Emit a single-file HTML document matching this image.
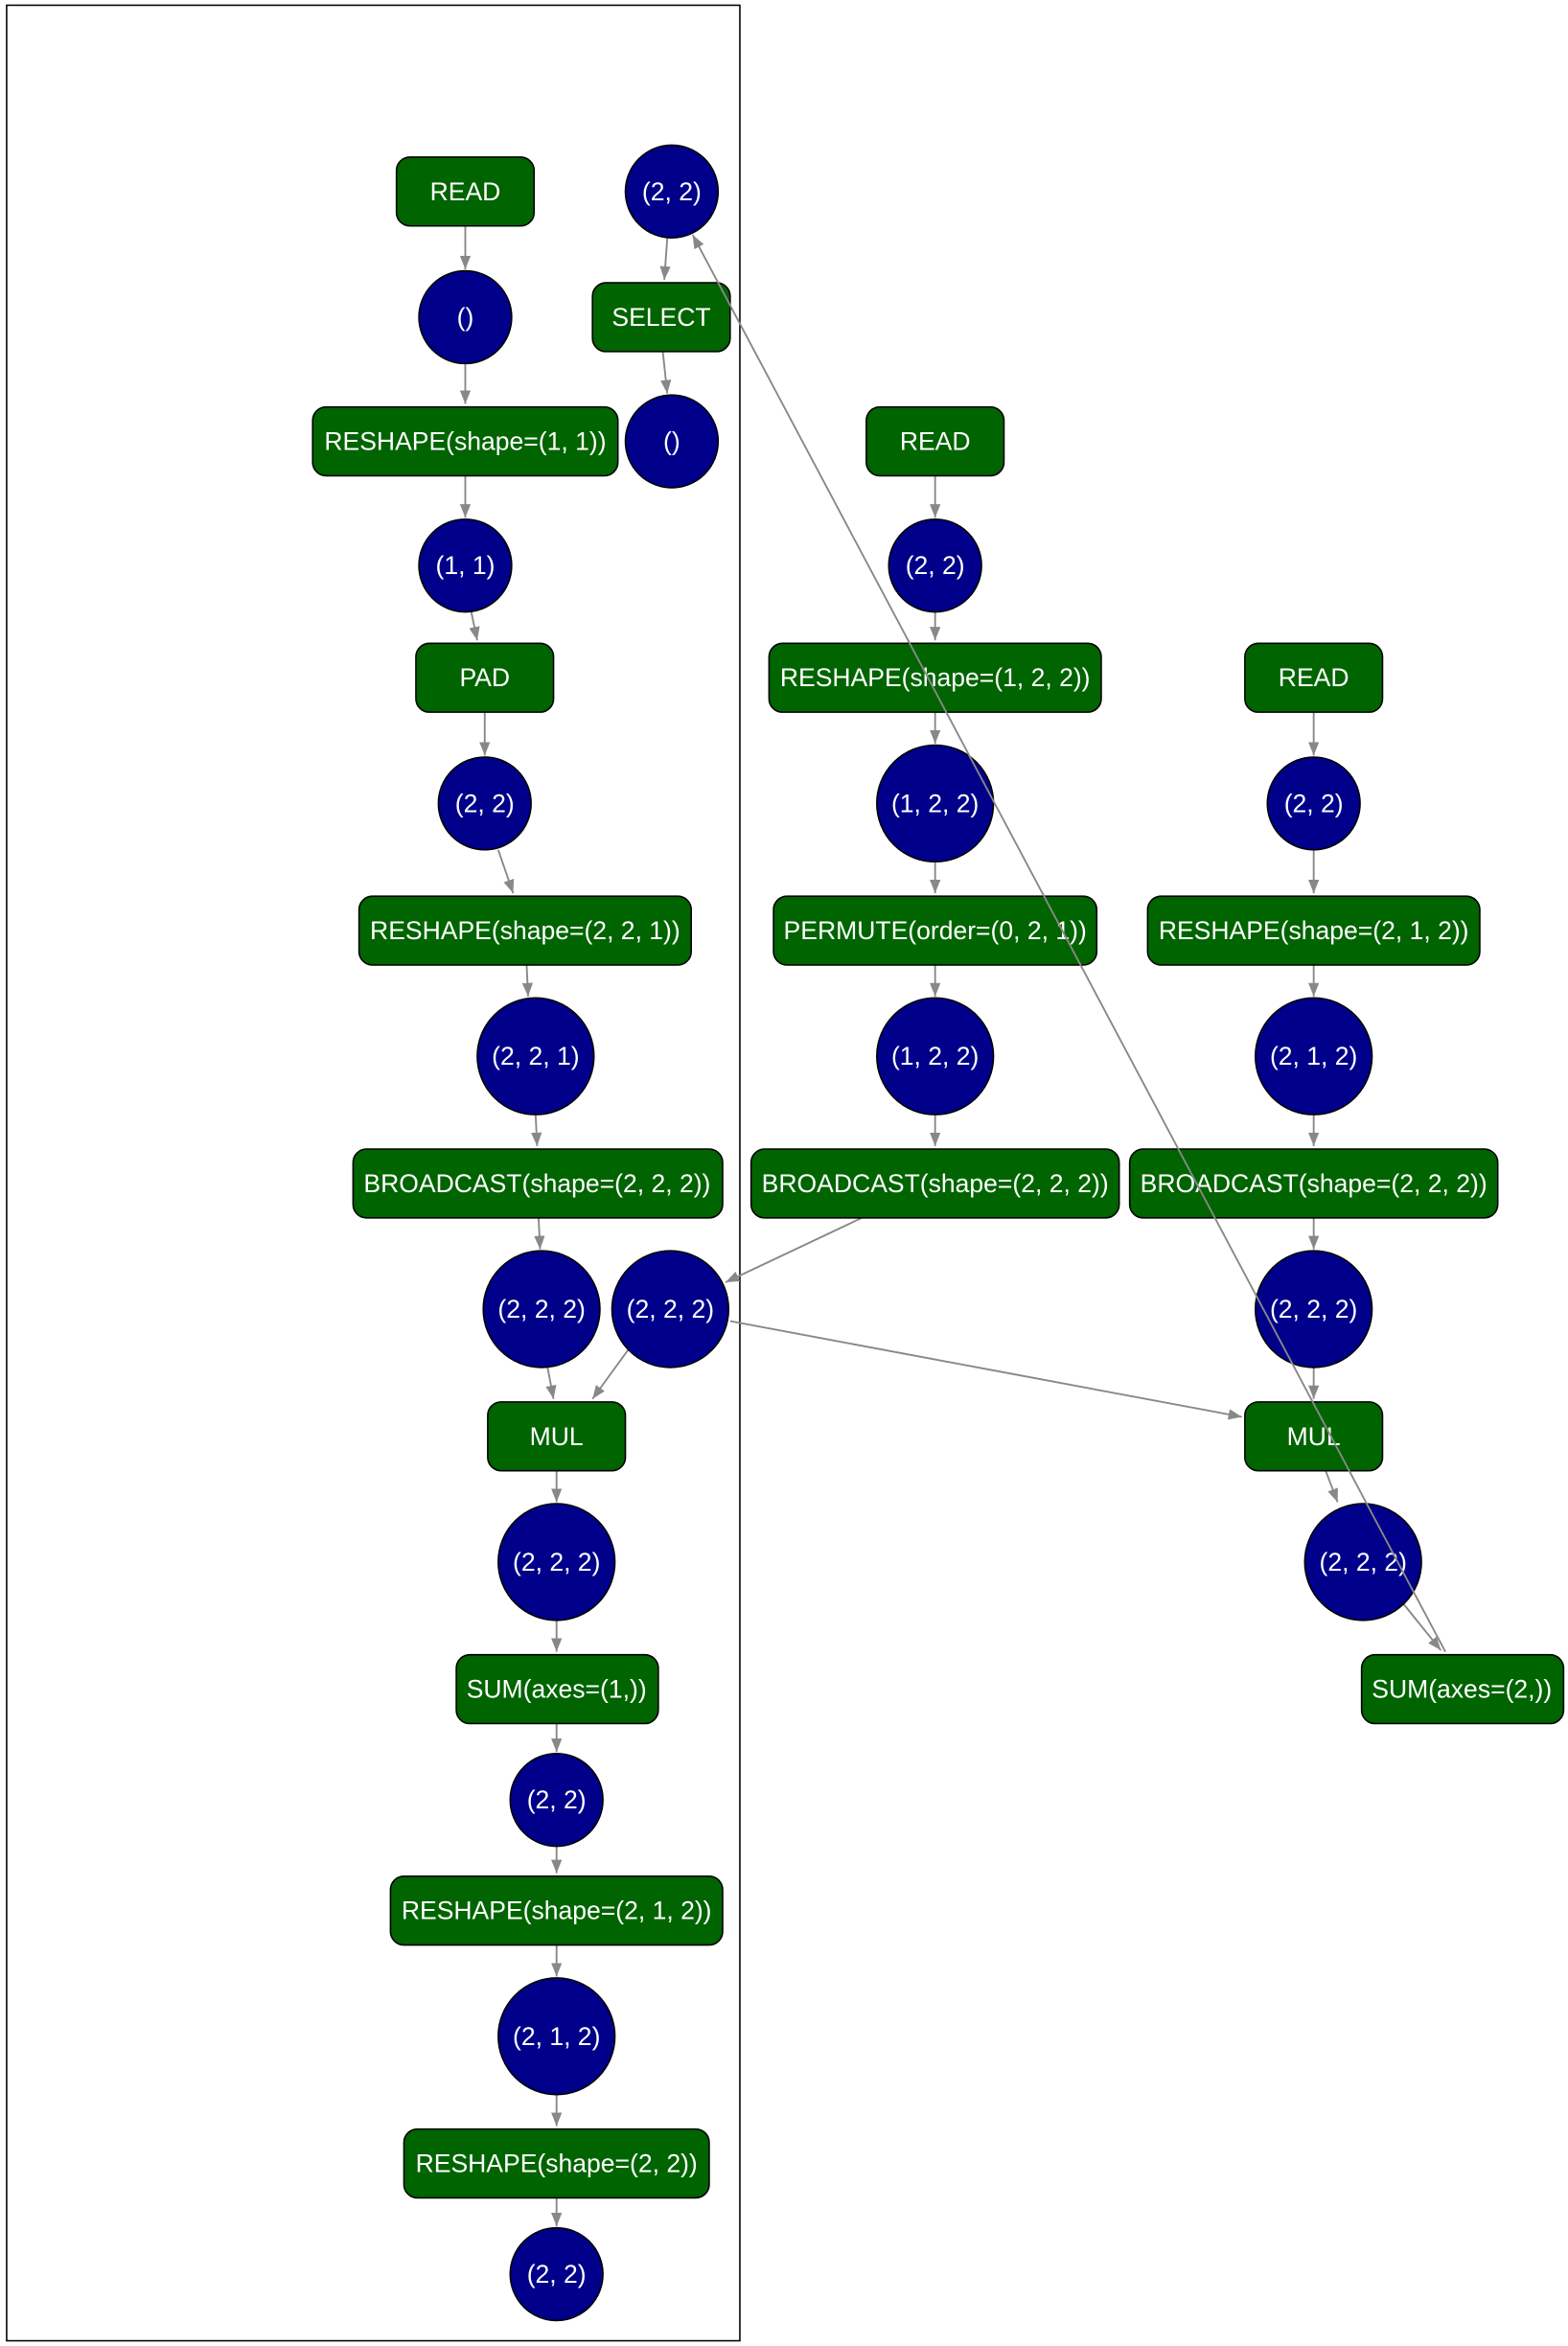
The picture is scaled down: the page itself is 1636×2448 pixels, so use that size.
<!DOCTYPE html>
<html><head><meta charset="utf-8"><style>
html,body{margin:0;padding:0;background:#fff;}
svg{display:block;}
text{font-family:"Liberation Sans",sans-serif;font-size:17px;fill:#fff;text-anchor:middle;dominant-baseline:central;}
.b{fill:#006400;stroke:#000;stroke-width:1;}
.e{fill:#00008b;stroke:#000;stroke-width:1;}
.l{stroke:#888;stroke-width:1.2;fill:none;marker-end:url(#a);}
</style></head><body>
<svg width="1636" height="2448" viewBox="0 0 1046 1568" xmlns="http://www.w3.org/2000/svg">
<defs><marker id="a" viewBox="0 0 10 10" refX="10" refY="5" markerWidth="9" markerHeight="9" markerUnits="userSpaceOnUse" orient="auto"><path d="M0,1 L10,5 L0,9 z" fill="#888"/></marker></defs>
<rect x="3.5" y="3.5" width="490" height="1561" fill="none" stroke="#000" stroke-width="1"/>

<path class="l" d="M310,151 L310,180"/>
<path class="l" d="M310,243 L310,270"/>
<path class="l" d="M310,318 L310,346"/>
<path class="l" d="M314,409 L318,428"/>
<path class="l" d="M323,476 L323,505"/>
<path class="l" d="M332,568 L342,597"/>
<path class="l" d="M351,645 L352,666"/>
<path class="l" d="M357,745 L358,766"/>
<path class="l" d="M359,814 L360,835"/>
<path class="l" d="M365,914 L369,935"/>
<path class="l" d="M419,902 L395,935"/>
<path class="l" d="M371,983 L371,1004"/>
<path class="l" d="M371,1083 L371,1104"/>
<path class="l" d="M371,1152 L371,1171"/>
<path class="l" d="M371,1234 L371,1252"/>
<path class="l" d="M371,1300 L371,1321"/>
<path class="l" d="M371,1400 L371,1421"/>
<path class="l" d="M371,1469 L371,1488"/>
<path class="l" d="M445,159 L443,187"/>
<path class="l" d="M442,235 L445,263"/>
<path class="l" d="M624,318 L624,346"/>
<path class="l" d="M624,409 L624,428"/>
<path class="l" d="M624,476 L624,497"/>
<path class="l" d="M624,576 L624,597"/>
<path class="l" d="M624,645 L624,666"/>
<path class="l" d="M624,745 L624,766"/>
<path class="l" d="M575,814 L484,857"/>
<path class="l" d="M487,883 L829,947"/>
<path class="l" d="M877,476 L877,505"/>
<path class="l" d="M877,568 L877,597"/>
<path class="l" d="M877,645 L877,666"/>
<path class="l" d="M877,745 L877,766"/>
<path class="l" d="M877,814 L877,835"/>
<path class="l" d="M877,914 L877,935"/>
<path class="l" d="M885,983 L893,1004"/>
<path class="l" d="M937,1072 L962,1103"/>

<rect class="b" x="264" y="105" width="92" height="46" rx="9"/><text x="310" y="128">READ</text>
<rect class="b" x="395" y="189" width="92" height="46" rx="9"/><text x="441" y="212">SELECT</text>
<rect class="b" x="208" y="272" width="204" height="46" rx="9"/><text x="310" y="295">RESHAPE(shape=(1, 1))</text>
<rect class="b" x="277" y="430" width="92" height="46" rx="9"/><text x="323" y="453">PAD</text>
<rect class="b" x="239" y="599" width="222" height="46" rx="9"/><text x="350" y="622">RESHAPE(shape=(2, 2, 1))</text>
<rect class="b" x="235" y="768" width="247" height="46" rx="9"/><text x="358" y="791">BROADCAST(shape=(2, 2, 2))</text>
<rect class="b" x="325" y="937" width="92" height="46" rx="9"/><text x="371" y="960">MUL</text>
<rect class="b" x="304" y="1106" width="135" height="46" rx="9"/><text x="371" y="1129">SUM(axes=(1,))</text>
<rect class="b" x="260" y="1254" width="222" height="46" rx="9"/><text x="371" y="1277">RESHAPE(shape=(2, 1, 2))</text>
<rect class="b" x="269" y="1423" width="204" height="46" rx="9"/><text x="371" y="1446">RESHAPE(shape=(2, 2))</text>

<rect class="b" x="578" y="272" width="92" height="46" rx="9"/><text x="624" y="295">READ</text>
<rect class="b" x="513" y="430" width="222" height="46" rx="9"/><text x="624" y="453">RESHAPE(shape=(1, 2, 2))</text>
<rect class="b" x="516" y="599" width="216" height="46" rx="9"/><text x="624" y="622">PERMUTE(order=(0, 2, 1))</text>
<rect class="b" x="501" y="768" width="246" height="46" rx="9"/><text x="624" y="791">BROADCAST(shape=(2, 2, 2))</text>

<rect class="b" x="831" y="430" width="92" height="46" rx="9"/><text x="877" y="453">READ</text>
<rect class="b" x="766" y="599" width="222" height="46" rx="9"/><text x="877" y="622">RESHAPE(shape=(2, 1, 2))</text>
<rect class="b" x="754" y="768" width="246" height="46" rx="9"/><text x="877" y="791">BROADCAST(shape=(2, 2, 2))</text>
<rect class="b" x="831" y="937" width="92" height="46" rx="9"/><text x="877" y="960">MUL</text>
<rect class="b" x="909" y="1106" width="135" height="46" rx="9"/><text x="976" y="1129">SUM(axes=(2,))</text>

<ellipse class="e" cx="448" cy="128" rx="31" ry="31"/><text x="448" y="128">(2, 2)</text>
<ellipse class="e" cx="310" cy="212" rx="31" ry="31"/><text x="310" y="212">()</text>
<ellipse class="e" cx="448" cy="295" rx="31" ry="31"/><text x="448" y="295">()</text>
<ellipse class="e" cx="310" cy="378" rx="31" ry="31"/><text x="310" y="378">(1, 1)</text>
<ellipse class="e" cx="323" cy="537" rx="31" ry="31"/><text x="323" y="537">(2, 2)</text>
<ellipse class="e" cx="357" cy="706" rx="39" ry="39"/><text x="357" y="706">(2, 2, 1)</text>
<ellipse class="e" cx="361" cy="875" rx="39" ry="39"/><text x="361" y="875">(2, 2, 2)</text>
<ellipse class="e" cx="447" cy="875" rx="39" ry="39"/><text x="447" y="875">(2, 2, 2)</text>
<ellipse class="e" cx="371" cy="1044" rx="39" ry="39"/><text x="371" y="1044">(2, 2, 2)</text>
<ellipse class="e" cx="371" cy="1203" rx="31" ry="31"/><text x="371" y="1203">(2, 2)</text>
<ellipse class="e" cx="371" cy="1361" rx="39" ry="39"/><text x="371" y="1361">(2, 1, 2)</text>
<ellipse class="e" cx="371" cy="1520" rx="31" ry="31"/><text x="371" y="1520">(2, 2)</text>

<ellipse class="e" cx="624" cy="378" rx="31" ry="31"/><text x="624" y="378">(2, 2)</text>
<ellipse class="e" cx="624" cy="537" rx="39" ry="39"/><text x="624" y="537">(1, 2, 2)</text>
<ellipse class="e" cx="624" cy="706" rx="39" ry="39"/><text x="624" y="706">(1, 2, 2)</text>

<ellipse class="e" cx="877" cy="537" rx="31" ry="31"/><text x="877" y="537">(2, 2)</text>
<ellipse class="e" cx="877" cy="706" rx="39" ry="39"/><text x="877" y="706">(2, 1, 2)</text>
<ellipse class="e" cx="877" cy="875" rx="39" ry="39"/><text x="877" y="875">(2, 2, 2)</text>
<ellipse class="e" cx="910" cy="1044" rx="39" ry="39"/><text x="910" y="1044">(2, 2, 2)</text>

<path class="l" d="M965,1104 L462,157"/>
</svg>
</body></html>
